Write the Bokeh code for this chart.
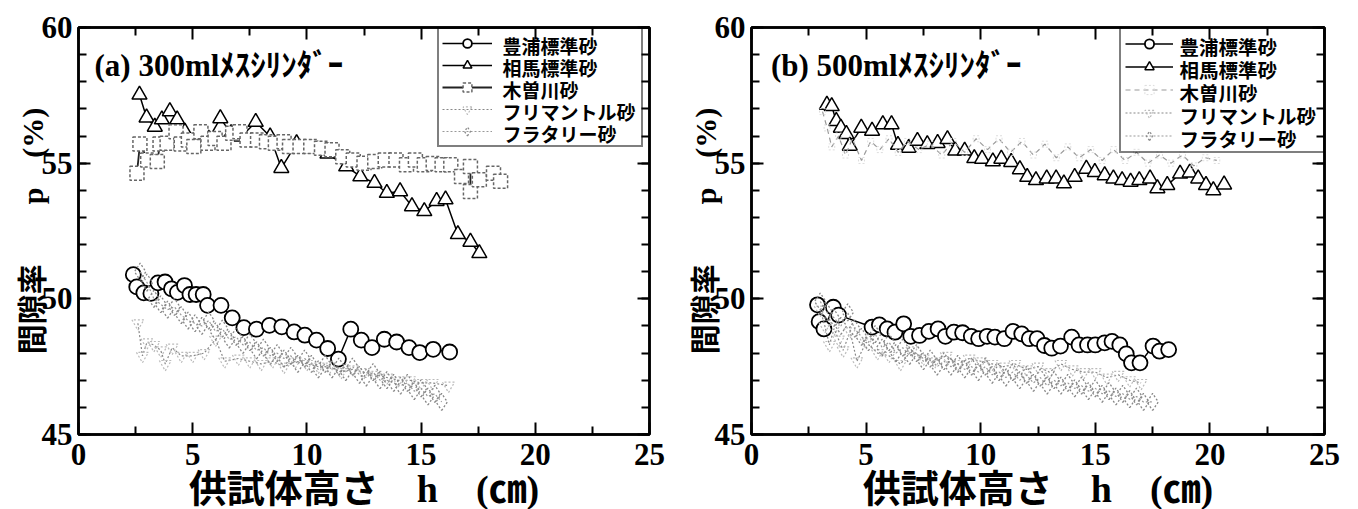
from bokeh.plotting import figure
from bokeh.models import Range1d, FixedTicker, LinearAxis, Legend, LegendItem, Label
from bokeh.layouts import row
from bokeh.embed import file_html
from bokeh.resources import INLINE

# ---------------- data ----------------
series_names = ["豊浦標準砂", "相馬標準砂", "木曽川砂", "フリマントル砂", "フラタリー砂"]
panel_titles = ["(a) 300mlﾒｽｼﾘﾝﾀﾞｰ", "(b) 500mlﾒｽｼﾘﾝﾀﾞｰ"]
x_label = "供試体高さ　h　(㎝)"
y_label = "間隙率　　p　(%)"
x_ticks = [0, 5, 10, 15, 20, 25]
x_minor_ticks = [2.5, 7.5, 12.5, 17.5, 22.5]
y_ticks = [45, 50, 55, 60]
y_minor_ticks = [45, 46, 47, 48, 49, 50, 51, 52, 53, 54, 55, 56, 57, 58, 59, 60]

# panel (a) 300ml
h_toyoura_a = [2.40, 2.55, 2.86, 3.17, 3.48, 3.79, 4.07, 4.33, 4.64, 4.88, 5.15, 5.46, 5.65, 6.24,
               6.73, 7.24, 7.79, 8.36, 8.90, 9.44, 9.91, 10.42, 10.91, 11.38, 11.92, 12.38, 12.85,
               13.39, 13.93, 14.47, 14.94, 15.53, 16.25]
p_toyoura_a = [50.89, 50.44, 50.22, 50.20, 50.59, 50.62, 50.37, 50.24, 50.49, 50.16, 50.16, 50.16,
               49.76, 49.76, 49.30, 48.94, 48.88, 49.02, 48.97, 48.78, 48.66, 48.48, 48.17, 47.78,
               48.88, 48.48, 48.20, 48.51, 48.41, 48.20, 48.02, 48.14, 48.04]

h_soma_a = [2.67, 2.98, 3.34, 3.65, 4.00, 4.32, 4.66, 5.20, 5.70, 6.21, 6.68, 7.14, 7.76, 8.39,
            8.88, 9.55, 10.2, 10.9, 11.72, 12.34, 12.96, 13.50, 14.08, 14.60, 15.14, 15.68, 16.07,
            16.61, 17.16, 17.55]
p_soma_a = [57.52, 56.68, 56.34, 56.61, 56.91, 56.61, 56.16, 56.00, 55.90, 56.65, 56.10, 55.98,
            56.52, 55.98, 54.82, 55.73, 55.55, 55.35, 54.88, 54.51, 54.27, 53.90, 53.96, 53.41,
            53.23, 53.60, 53.66, 52.38, 52.10, 51.68]

h_kiso_a = [2.56, 2.69, 3.03, 3.45, 3.57, 3.88, 4.27, 4.50, 4.81, 5.05, 5.36, 5.67, 5.98, 6.37,
            6.75, 7.07, 7.38, 7.84, 8.23, 8.62, 9.00, 9.24, 9.70, 10.17, 10.64, 11.10, 11.57,
            12.03, 12.50, 12.97, 13.43, 13.90, 14.36, 14.75, 15.14, 15.53, 15.92, 16.30, 16.77,
            17.16, 17.16, 17.55, 18.17, 18.48]
p_kiso_a = [54.63, 55.71, 55.12, 55.06, 55.71, 55.73, 56.16, 55.71, 55.85, 55.61, 56.16, 55.73,
            55.91, 55.73, 56.10, 56.16, 55.85, 55.85, 55.79, 55.73, 55.79, 55.61, 55.61, 55.61,
            55.55, 55.49, 55.24, 55.12, 55.00, 55.06, 55.12, 55.12, 54.94, 55.12, 54.94, 54.99,
            54.94, 54.94, 54.51, 54.88, 53.96, 54.39, 54.63, 54.33]

h_frem_a = [2.6, 2.8, 3.0, 3.3, 3.6, 3.8, 4.1, 4.5, 5.0, 5.5, 6.0, 6.4, 7.0, 7.5, 8.0, 8.5, 9.0,
            9.5, 10.0, 10.5, 11.0, 11.5, 12.0, 12.5, 13.0, 13.5, 14.0, 14.5, 15.0, 15.5, 16.2]
p_frem_a = [49.1, 47.9, 48.4, 48.3, 48.1, 47.6, 48.2, 47.9, 47.9, 48.0, 48.5, 47.7, 47.8, 47.7,
            47.6, 47.7, 47.5, 47.7, 47.6, 47.5, 47.5, 47.3, 47.4, 47.3, 47.2, 47.1, 47.0, 47.0,
            46.9, 46.9, 46.8]

h_flat_a = [2.7, 3.0, 3.3, 3.6, 3.9, 4.2, 4.5, 4.8, 5.1, 5.4, 5.7, 6.0, 6.3, 6.6, 6.9, 7.2, 7.5,
            7.8, 8.1, 8.4, 8.7, 9.0, 9.3, 9.6, 9.9, 10.2, 10.5, 10.8, 11.1, 11.4, 11.7, 12.0, 12.3,
            12.6, 12.9, 13.2, 13.5, 13.8, 14.1, 14.4, 14.7, 15.0, 15.3, 15.6, 15.9]
p_flat_a = [51.0, 50.6, 50.0, 49.8, 49.6, 49.7, 49.4, 49.2, 49.1, 49.0, 49.2, 48.8, 48.9, 48.5,
            48.6, 48.3, 48.4, 48.1, 48.2, 47.9, 48.0, 47.8, 47.9, 47.6, 47.8, 47.6, 47.4, 47.6,
            47.4, 47.5, 47.3, 47.5, 47.2, 47.1, 47.3, 47.0, 47.0, 46.9, 46.8, 46.9, 46.6, 46.7,
            46.4, 46.5, 46.2]

# panel (b) 500ml
h_toyoura_b = [2.88, 2.95, 3.16, 3.57, 3.80, 5.26, 5.58, 5.92, 6.26, 6.64, 6.95, 7.33, 7.74, 8.14,
               8.46, 8.83, 9.21, 9.59, 9.91, 10.28, 10.62, 11.03, 11.41, 11.79, 12.12, 12.46,
               12.78, 13.10, 13.48, 13.97, 14.29, 14.66, 15.00, 15.41, 15.73, 16.07, 16.35, 16.58,
               16.95, 17.52, 17.80, 18.20]
p_toyoura_b = [49.78, 49.16, 48.89, 49.69, 49.40, 48.96, 49.04, 48.89, 48.77, 49.08, 48.62, 48.65,
               48.80, 48.89, 48.62, 48.77, 48.75, 48.62, 48.53, 48.62, 48.59, 48.53, 48.80, 48.71,
               48.53, 48.53, 48.28, 48.18, 48.26, 48.59, 48.30, 48.30, 48.30, 48.38, 48.43, 48.30,
               47.97, 47.64, 47.64, 48.26, 48.07, 48.13]

h_soma_b = [3.29, 3.50, 3.70, 3.90, 4.14, 4.29, 4.79, 5.26, 5.73, 6.11, 6.39, 6.86, 7.24, 7.67,
            8.12, 8.55, 8.89, 9.30, 9.72, 10.06, 10.53, 10.90, 11.33, 11.71, 12.03, 12.41, 12.88,
            13.29, 13.63, 14.10, 14.61, 14.98, 15.41, 15.79, 16.17, 16.54, 16.92, 17.39, 17.71,
            18.14, 18.70, 19.12, 19.49, 19.83, 20.15, 20.62]
p_soma_b = [57.15, 57.10, 56.55, 56.30, 56.07, 55.64, 56.30, 56.19, 56.43, 56.43, 55.67, 55.56,
            55.82, 55.70, 55.74, 55.88, 55.46, 55.46, 55.18, 55.16, 55.06, 55.16, 55.04, 54.77,
            54.49, 54.37, 54.43, 54.43, 54.25, 54.49, 54.79, 54.67, 54.55, 54.43, 54.37, 54.31,
            54.37, 54.43, 54.07, 54.19, 54.61, 54.65, 54.43, 54.19, 54.00, 54.21]

h_kiso_b = [3.1, 3.3, 3.5, 3.8, 4.1, 4.4, 4.8, 5.2, 5.6, 6.0, 6.4, 6.8, 7.3, 7.8, 8.3, 8.8, 9.3,
            9.8, 10.3, 10.8, 11.3, 11.8, 12.3, 12.8, 13.3, 13.8, 14.3, 14.8, 15.3, 15.8, 16.3,
            16.8, 17.3, 17.8, 18.3, 18.8, 19.3, 19.8, 20.3]
p_kiso_b = [56.9, 56.3, 55.6, 56.0, 55.3, 55.9, 55.1, 55.8, 55.5, 55.9, 55.4, 55.8, 55.5, 55.7,
            55.3, 55.8, 55.4, 55.9, 55.5, 55.9, 55.4, 55.8, 55.3, 55.7, 55.2, 55.6, 55.2, 55.5,
            55.1, 55.5, 55.1, 55.4, 55.0, 55.3, 55.0, 55.3, 54.9, 55.2, 55.1]

h_frem_b = [3.0, 3.2, 3.4, 3.6, 3.8, 4.0, 4.3, 4.6, 5.0, 5.5, 6.0, 6.5, 7.0, 7.5, 8.0, 8.5, 9.0,
            9.5, 10.0, 10.5, 11.0, 11.5, 12.0, 12.5, 13.0, 13.5, 14.0, 14.5, 15.0, 15.5, 16.0,
            16.5, 17.0]
p_frem_b = [49.6, 49.0, 48.3, 48.9, 48.5, 48.1, 48.8, 47.7, 48.4, 48.0, 47.9, 47.6, 48.1, 47.8,
            47.7, 47.9, 47.6, 47.8, 47.7, 47.6, 47.5, 47.6, 47.4, 47.5, 47.3, 47.6, 47.4, 47.3,
            47.3, 47.1, 47.2, 47.0, 46.9]

h_flat_b = [3.0, 3.3, 3.6, 3.9, 4.2, 4.5, 4.8, 5.1, 5.4, 5.7, 6.0, 6.3, 6.6, 6.9, 7.2, 7.5, 7.8,
            8.1, 8.4, 8.7, 9.0, 9.3, 9.6, 9.9, 10.2, 10.5, 10.8, 11.1, 11.4, 11.7, 12.0, 12.3,
            12.6, 12.9, 13.2, 13.5, 13.8, 14.1, 14.4, 14.7, 15.0, 15.3, 15.6, 15.9, 16.2, 16.5,
            16.8, 17.1, 17.5]
p_flat_b = [49.9, 49.5, 49.3, 49.0, 49.5, 48.9, 48.6, 48.4, 48.7, 48.2, 48.4, 48.0, 48.2, 47.9,
            48.0, 47.7, 47.8, 47.5, 47.7, 47.5, 47.6, 47.4, 47.5, 47.3, 47.5, 47.2, 47.3, 47.1,
            47.3, 47.0, 47.2, 46.9, 47.1, 46.8, 47.0, 46.8, 46.9, 46.7, 46.8, 46.6, 46.7, 46.5,
            46.6, 46.4, 46.5, 46.3, 46.4, 46.2, 46.2]

# ---------------- styling ----------------
SERIF = "Liberation Serif, Noto Sans CJK JP"
X_MIN, X_MAX, Y_MIN, Y_MAX = 0, 25, 45, 60
FRAME_H = 407


def make_panel(idx, data, frame_w, left_border, right_border, lg):
    p = figure(frame_width=frame_w, frame_height=FRAME_H,
               x_range=Range1d(X_MIN, X_MAX), y_range=Range1d(Y_MIN, Y_MAX),
               output_backend="svg", toolbar_location=None,
               min_border_left=left_border, min_border_right=right_border,
               min_border_top=27, min_border_bottom=0)
    p.background_fill_color = "white"
    p.border_fill_color = "white"
    p.grid.visible = False
    p.outline_line_color = "black"
    p.outline_line_width = 2.5

    bottom = p.below[0]
    left = p.left[0]

    xt = FixedTicker(ticks=x_ticks, minor_ticks=x_minor_ticks)
    yt = FixedTicker(ticks=y_ticks, minor_ticks=y_minor_ticks)
    bottom.ticker = xt
    left.ticker = yt

    # mirrored axes (ticks only)
    top = LinearAxis(ticker=xt)
    right = LinearAxis(ticker=yt)
    p.add_layout(top, "above")
    p.add_layout(right, "right")

    for ax in [bottom, left, top, right]:
        ax.axis_line_width = 2.5
        ax.axis_line_color = "black"
        ax.major_tick_in = 12
        ax.major_tick_out = 0
        ax.minor_tick_in = 8
        ax.minor_tick_out = 0
        ax.major_tick_line_width = 2
        ax.minor_tick_line_width = 2
        ax.major_tick_line_color = "black"
        ax.minor_tick_line_color = "black"
        ax.major_label_text_font = SERIF
        ax.major_label_text_font_style = "bold"
        ax.major_label_text_font_size = "31px"
        ax.major_label_text_color = "black"
        ax.major_label_standoff = 6

    for ax in [top, right]:
        ax.major_label_text_font_size = "1px"
        ax.major_label_text_alpha = 0
        ax.major_label_standoff = 0

    bottom.major_label_standoff = 9
    bottom.axis_label = x_label
    bottom.axis_label_text_font = SERIF
    bottom.axis_label_text_font_style = "bold"
    bottom.axis_label_text_font_size = "38px"
    bottom.axis_label_standoff = 0
    bottom.axis_label_text_color = "black"

    left.major_label_standoff = 6
    left.axis_label = y_label
    left.axis_label_text_font = SERIF
    left.axis_label_text_font_style = "bold"
    left.axis_label_text_font_size = "30px"
    left.axis_label_standoff = -10
    left.axis_label_text_color = "black"

    (h1, p1), (h2, p2), (h3, p3), (h4, p4), (h5, p5) = data

    items = []
    # 豊浦標準砂 : open circle, black
    l1 = p.line(h1, p1, line_color="black", line_width=1.5)
    s1 = p.scatter(h1, p1, marker="circle", size=15, fill_color="white",
                   line_color="black", line_width=1.8)
    items.append(LegendItem(label=" ", renderers=[l1, s1]))
    # 相馬標準砂 : open triangle, black
    l2 = p.line(h2, p2, line_color="black", line_width=1.5)
    s2 = p.scatter(h2, p2, marker="triangle", size=15, fill_color="white",
                   line_color="black", line_width=1.5)
    items.append(LegendItem(label=" ", renderers=[l2, s2]))
    # 木曽川砂 : square, grey dashed
    if idx == 0:
        l3 = p.line(h3, p3, line_color="#222222", line_width=1.8)
        s3 = p.scatter(h3, p3, marker="square", size=14, fill_color="white",
                       line_color="#666666", line_width=1.5, line_dash="3 2")
    else:
        l3 = p.line(h3, p3, line_color="#999999", line_width=1.2, line_dash="5 4")
        s3 = p.scatter(h3, p3, marker="square", size=6, fill_color=None,
                       line_color="#dddddd", line_width=1, line_dash="2 2")
    items.append(LegendItem(label=" ", renderers=[l3, s3]))
    # フリマントル砂 : inverted triangle, grey dotted
    l4 = p.line(h4, p4, line_color="#888888", line_width=1.2, line_dash="2 2")
    s4 = p.scatter(h4, p4, marker="inverted_triangle", size=12, fill_color=None,
                   line_color="#bbbbbb", line_width=1.2, line_dash="2 2")
    items.append(LegendItem(label=" ", renderers=[l4, s4]))
    # フラタリー砂 : diamond, grey dotted
    l5 = p.line(h5, p5, line_color="#999999", line_width=1.2, line_dash="2 2")
    s5 = p.scatter(h5, p5, marker="diamond", size=17, fill_color=None,
                   line_color="#888888", line_width=1.3, line_dash="2 2")
    items.append(LegendItem(label=" ", renderers=[l5, s5]))

    # legend box (glyphs, transparent background); its labels are text labels
    n = len(items)
    leg_h = 2 * lg["pad"] + n * lg["row"]
    legend = Legend(items=items,
                    location=(lg["left"], FRAME_H - lg["top"] - leg_h))
    legend.label_text_font = SERIF
    legend.label_text_font_size = "10px"
    legend.label_height = lg["row"]
    legend.glyph_height = lg["row"]
    legend.glyph_width = lg["glyph"]
    legend.label_width = lg["label_w"]
    legend.label_standoff = lg["standoff"]
    legend.spacing = 0
    legend.padding = lg["pad"]
    legend.margin = 0
    legend.border_line_color = "black"
    legend.border_line_width = 2
    legend.background_fill_alpha = 0
    p.add_layout(legend, "center")

    x_per_px = (X_MAX - X_MIN) / frame_w
    y_per_px = (Y_MAX - Y_MIN) / FRAME_H
    text_x = X_MIN + (lg["left"] + lg["pad"] + lg["glyph"] + lg["standoff"]) * x_per_px
    for i, name in enumerate(series_names):
        cy = lg["top"] + lg["pad"] + lg["row"] * (i + 0.5)
        p.add_layout(Label(x=text_x, y=Y_MAX - cy * y_per_px, text=name,
                           text_font="Noto Sans CJK JP", text_font_style="bold",
                           text_font_size=lg["font"], text_baseline="middle",
                           text_color="black"))

    title = Label(x=0.7 if idx == 0 else 0.85, y=57.95, text=panel_titles[idx],
                  text_font=SERIF, text_font_style="bold", text_font_size="31px",
                  text_baseline="bottom", text_color="black")
    p.add_layout(title)
    return p


legend_a = dict(left=359, top=4, pad=3, row=22, glyph=50, standoff=12, label_w=134, font="19px")
legend_b = dict(left=368, top=3, pad=4, row=23, glyph=48, standoff=8, label_w=138, font="19.5px")

pa = make_panel(0, [(h_toyoura_a, p_toyoura_a), (h_soma_a, p_soma_a), (h_kiso_a, p_kiso_a),
                    (h_frem_a, p_frem_a), (h_flat_a, p_flat_a)],
                571, 78, 30, legend_a)
pb = make_panel(1, [(h_toyoura_b, p_toyoura_b), (h_soma_b, p_soma_b), (h_kiso_b, p_kiso_b),
                    (h_frem_b, p_frem_b), (h_flat_b, p_flat_b)],
                573, 72, 22, legend_b)

layout = row(pa, pb)
open("out.html", "w").write(file_html(layout, INLINE))
